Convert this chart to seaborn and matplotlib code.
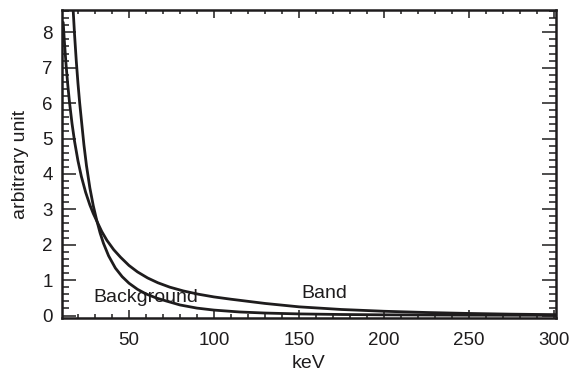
import matplotlib
matplotlib.use("Agg")
import matplotlib.pyplot as plt
from matplotlib.ticker import MultipleLocator
import seaborn as sns
import pandas as pd

band_kev = [11.3, 12, 13, 14, 15, 16.5, 18, 20, 22, 24.5, 27, 29, 31, 34, 37, 41, 45, 50, 55, 61, 67, 74, 82, 91, 100, 110, 130, 150, 175, 200, 225, 250, 275, 301]
band_val = [8.28, 7.742, 7.078, 6.515, 6.03, 5.42, 4.916, 4.369, 3.927, 3.481, 3.122, 2.882, 2.675, 2.372, 2.125, 1.86, 1.648, 1.414, 1.232, 1.06, 0.925, 0.801, 0.694, 0.6, 0.525, 0.46, 0.341, 0.245, 0.17, 0.12, 0.085, 0.058, 0.038, 0.024]

bg_kev = [16.9, 17.2, 18, 19, 20, 21, 22.2, 23.5, 25, 27, 29, 31, 33, 35, 38, 42, 46, 50, 55, 60, 66, 72, 80, 90, 100, 115, 130, 150, 175, 200, 250, 301]
bg_val = [8.877, 8.6, 7.924, 7.19, 6.555, 6.005, 5.433, 4.821, 4.233, 3.602, 3.1, 2.695, 2.334, 2.039, 1.687, 1.34, 1.097, 0.913, 0.74, 0.611, 0.496, 0.409, 0.298, 0.209, 0.153, 0.1, 0.0695, 0.045, 0.0285, 0.019, 0.0098, 0.0057]

label_bg = "Background"
label_band = "Band"
x_label = "keV"
y_label = "arbitrary unit"

sns.set_style("ticks")
plt.rcParams['font.family'] = ['Liberation Sans', 'DejaVu Sans']

ink = "#1e1c1d"
fs = 13.5
fs_txt = 14
fig = plt.figure(figsize=(5.86, 3.71), dpi=100)
ax = fig.add_axes([0.1058, 0.1429, 0.8430, 0.8301])

df_band = pd.DataFrame({"kev": band_kev, "val": band_val})
df_bg = pd.DataFrame({"kev": bg_kev, "val": bg_val})
sns.lineplot(data=df_band, x="kev", y="val", ax=ax, color=ink, lw=2.0, estimator=None)
sns.lineplot(data=df_bg, x="kev", y="val", ax=ax, color=ink, lw=2.0, estimator=None)

ax.set_xlim(10.6, 301.2)
ax.set_ylim(-0.07, 8.63)
ax.xaxis.set_major_locator(MultipleLocator(50))
ax.xaxis.set_minor_locator(MultipleLocator(10))
ax.yaxis.set_major_locator(MultipleLocator(1))
ax.yaxis.set_minor_locator(MultipleLocator(0.2))
ax.tick_params(which="both", direction="in", top=True, right=True, color=ink, width=1.1, labelsize=fs, labelcolor=ink)
ax.tick_params(axis="x", which="major", length=6, pad=10)
ax.tick_params(axis="x", which="minor", length=3)
ax.tick_params(axis="y", which="major", length=10, pad=6.5)
ax.tick_params(axis="y", which="minor", length=5)
for s in ax.spines.values():
    s.set_linewidth(1.8)
    s.set_color(ink)

ax.set_xlabel(x_label, fontsize=fs_txt, color=ink, labelpad=4.5)
ax.set_ylabel(y_label, fontsize=fs_txt, color=ink, labelpad=9.5)

ax.text(29.0, 0.38, label_bg, fontsize=fs_txt, color=ink, va="baseline", ha="left")
ax.text(151.2, 0.49, label_band, fontsize=fs_txt, color=ink, va="baseline", ha="left")

fig.savefig("out.png", dpi=100)
